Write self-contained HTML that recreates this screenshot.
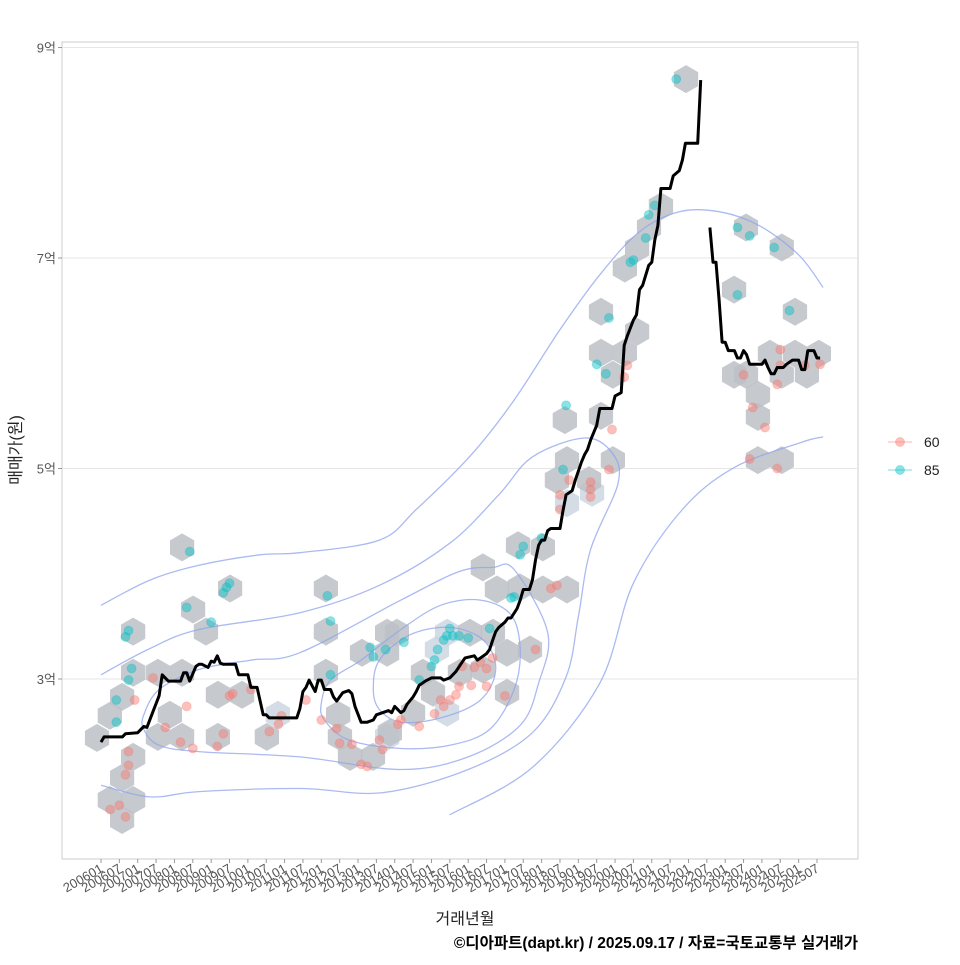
<!DOCTYPE html>
<html><head><meta charset="utf-8">
<style>
html,body{margin:0;padding:0;background:#fff;}
body{width:960px;height:960px;overflow:hidden;font-family:"Liberation Sans","Noto Sans CJK KR",sans-serif;}
svg text{font-family:"Liberation Sans","Noto Sans CJK KR",sans-serif;}
</style></head>
<body>
<svg id="chart" width="960" height="960" viewBox="0 0 960 960" xmlns="http://www.w3.org/2000/svg"></svg>
<script>
// ---- data (month index from 2006-01, price in 억) ----
const yTicks = [3,5,7,9];
const yTickLabels = ['3억','5억','7억','9억'];
const xTickLabels = [];
for (let yr = 2006; yr <= 2025; yr++) { xTickLabels.push(yr + '01'); xTickLabels.push(yr + '07'); }

const lineMonths = [0,1,7,8,12,14,15,17,19,20,22,26,27,28,29,31,32,33,35,36,37,38,39,40,44,45,48,49,51,53,54,55,64,65,66,67,68,70,71,72,73,75,76,77,79,81,82,83,85,87,89,90,92,94,95,96,98,99,100,102,103,104,106,108,111,112,114,116,118,119,122,123,125,126,127,128,129,130,132,133,134,136,137,138,140,141,142,143,144,145,146,147,150,151,152,154,155,157,158,159,160,162,163,167,168,170,171,172,174,175,176,177,179,180,181,182,183,186,187,189,190,191,195,196];
const lineValues = [2.40,2.45,2.45,2.48,2.49,2.55,2.54,2.69,2.84,3.04,2.98,2.98,3.06,3.06,2.98,3.12,3.14,3.14,3.11,3.17,3.16,3.22,3.15,3.14,3.14,3.04,3.04,2.92,2.92,2.66,2.66,2.63,2.63,2.72,2.88,2.92,2.99,2.88,2.99,2.99,2.90,2.90,2.83,2.79,2.87,2.89,2.86,2.74,2.59,2.59,2.61,2.66,2.68,2.70,2.68,2.74,2.68,2.70,2.76,2.83,2.88,2.94,2.98,3.01,3.01,2.99,3.01,3.07,3.16,3.20,3.22,3.18,3.22,3.24,3.28,3.37,3.45,3.49,3.54,3.58,3.58,3.67,3.75,3.85,3.85,3.94,4.13,4.27,4.32,4.32,4.41,4.43,4.43,4.60,4.75,4.79,4.89,5.06,5.13,5.18,5.27,5.41,5.57,5.57,5.69,5.72,6.17,6.26,6.41,6.46,6.70,6.74,6.93,6.96,7.17,7.31,7.66,7.66,7.78,7.83,7.93,8.09,8.09,8.69];
const line2Months = [199,200,201,202,203,204,205,207,208,209,210,211,212,216,217,218,219,220,221,223,224,226,228,229,230,231,233,234,235];
const line2Values = [7.29,6.96,6.96,6.60,6.20,6.20,6.12,6.12,6.05,6.05,6.12,6.08,5.99,5.99,6.03,5.96,5.90,5.90,5.96,5.96,5.99,6.03,6.03,5.94,5.94,6.12,6.12,6.05,6.05];

const hexMonths = [-1.3,2.9,2.9,6.9,6.9,6.9,10.5,10.5,10.5,10.5,18.6,26.5,26.5,42.2,30.1,34.3,22.5,26.5,18.6,38.2,38.2,46.1,54.2,57.8,73.5,73.5,73.5,85.3,93.5,93.5,78.1,81.4,88.9,93.5,77.5,102,94.4,108.5,113.1,105.2,117.3,124.8,132.7,109.8,132.7,140.2,96.7,113.1,120.6,128.1,124.8,129.4,136.9,144.4,152.3,136.3,144.4,149.0,152.3,160.5,152.3,167.3,151.6,159.5,163.4,167.3,163.4,171.2,163.4,175.2,171.2,175.2,179.1,183.0,191.2,206.9,210.8,222.5,226.8,210.8,218.6,226.8,234.6,230.7,214.7,214.7,214.7,222.5,206.9,222.5];
const hexValues = [2.44,2.65,1.85,2.83,2.06,1.66,3.06,2.26,1.85,3.45,3.06,3.06,4.25,3.86,3.66,3.45,2.66,2.45,2.45,2.85,2.45,2.85,2.45,2.66,3.86,3.45,3.06,3.25,3.44,3.25,2.45,2.26,2.26,2.45,2.66,2.68,2.49,2.87,2.68,3.06,3.06,3.09,2.87,3.28,3.25,3.28,3.44,3.44,3.44,3.44,4.06,3.85,3.87,3.85,3.85,4.27,4.25,4.89,5.08,4.77,4.67,5.08,5.46,4.89,5.50,5.89,6.10,6.10,6.49,6.30,6.90,7.09,7.29,7.49,8.70,6.70,7.29,7.10,6.49,5.89,6.09,6.09,6.09,5.89,5.70,5.49,5.08,5.08,5.89,5.89];
const hexLight = [23,33,38,43,47,59,60];

const p60Months = [3,6,8,8,9,9,11,17,21,26,28,30,38,40,42,43,49,55,58,59,67,72,77,78,82,85,87,91,92,97,98,104,109,111,112,114,116,117,118,121,122,124,126,126,128,132,142,147,149,150,150,153,160,160,160,166,167,172,171,210,213,217,212,221,222,222,230,221,235];
const p60Values = [1.76,1.80,1.69,2.09,2.18,2.31,2.80,3.01,2.54,2.40,2.74,2.34,2.36,2.48,2.84,2.86,2.90,2.50,2.57,2.65,2.80,2.61,2.53,2.39,2.38,2.19,2.17,2.42,2.33,2.57,2.61,2.55,2.67,2.80,2.74,2.80,2.85,2.93,3.12,2.94,3.11,3.16,3.10,2.93,3.20,2.84,3.28,3.86,3.89,4.75,4.61,4.89,4.87,4.80,4.73,4.99,5.37,5.98,5.87,5.89,5.58,5.39,5.09,5.80,6.13,5.98,5.98,5.00,5.99];
const p85Months = [5,5,9,10,8,9,29,28,36,40,41,42,74,75,75,88,89,93,99,104,108,109,110,112,114,115,113,117,120,127,134,137,138,135,144,151,152,162,165,166,173,174,178,179,181,188,208,212,208,220,225];
const p85Values = [2.80,2.59,2.99,3.10,3.40,3.46,4.21,3.68,3.54,3.82,3.87,3.91,3.79,3.55,3.04,3.30,3.21,3.28,3.35,2.99,3.12,3.18,3.28,3.37,3.48,3.41,3.41,3.41,3.39,3.48,3.77,4.18,4.26,3.78,4.34,4.99,5.60,5.99,5.90,6.43,6.96,6.98,7.19,7.41,7.50,8.70,7.29,7.21,6.65,7.10,6.50];

const contour1M = [0,16,32,52,65,91,103,121,135,150,163,176,189,202,215,228,236];
const contour1V = [3.70,3.94,4.08,4.18,4.20,4.32,4.61,5.13,5.65,6.32,6.84,7.25,7.44,7.44,7.31,7.03,6.72];
const contour2M = [0,16,32,65,91,114,130,141,158,167,169,160,156,152,141,120,92,65,32,16,0];
const contour2V = [3.04,3.29,3.47,3.63,3.89,4.29,4.75,5.11,5.29,5.15,4.86,4.23,3.59,3.02,2.49,2.14,1.92,1.96,1.93,1.88,1.99];
const contour3M = [14,19,32,49,65,98,117,128,135,146,143,137,120,98,65,32,19,14];
const contour3V = [2.66,2.90,3.09,3.18,3.25,3.75,4.02,4.06,4.04,3.44,2.96,2.56,2.26,2.14,2.26,2.31,2.37,2.52];
const contour4M = [72,75,85,98,111,124,134,137,135,127,114,98,81,73];
const contour4V = [2.77,2.99,3.18,3.47,3.70,3.75,3.61,3.28,2.90,2.52,2.37,2.34,2.42,2.61];
const contour5M = [89,91,101,114,125,129,124,111,98,91];
const contour5V = [2.90,3.18,3.42,3.49,3.37,3.09,2.80,2.63,2.59,2.71];
const contour6M = [114,141,163,174,190,207,229,236];
const contour6V = [1.71,2.16,2.96,3.91,4.61,5.01,5.25,5.30];

// ---- scales ----
const PL = 62, PR = 858, PT = 42, PB = 859;
const xS = m => 101 + m * (716 / 234);
const yS = v => 679 - (v - 3) * 105.25;
const NS = 'http://www.w3.org/2000/svg';
const svg = document.getElementById('chart');
function mk(tag, attrs, parent) {
  const e = document.createElementNS(NS, tag);
  for (const k in attrs) e.setAttribute(k, attrs[k]);
  (parent || svg).appendChild(e);
  return e;
}

// panel
const panel = mk('rect', {x: PL, y: PT, width: PR - PL, height: PB - PT, fill: '#fff', stroke: '#cccccc', 'stroke-width': 1});



// gridlines + y ticks
const gGrid = mk('g', {});


yTicks.forEach((t, i) => {
  const y = yS(t);
  const gl = mk('line', {x1: PL, x2: PR, y1: y, y2: y, stroke: '#e6e6e6', 'stroke-width': 1}, gGrid);
  
  
  const tk = mk('line', {x1: PL - 4, x2: PL, y1: y, y2: y, stroke: '#999', 'stroke-width': 1});
  
  
  const tx = mk('text', {x: PL - 6, y: y + 5, 'text-anchor': 'end', 'font-size': 13, fill: '#555'});
  tx.textContent = yTickLabels[i];
  
  
});

// x ticks
xTickLabels.forEach((lab, i) => {
  const x = xS(i * 6);
  const tk = mk('line', {x1: x, x2: x, y1: PB, y2: PB + 4, stroke: '#999', 'stroke-width': 1});
  
  
  const tx = mk('text', {x: 0, y: 0, 'text-anchor': 'end', 'font-size': 13, fill: '#555', transform: `translate(${x + 3},${PB + 12}) rotate(-30)`});
  tx.textContent = lab;
  
  
});

// hexbins
const gHex = mk('g', {});


const R = 14;
hexMonths.forEach((m, i) => {
  const cx = xS(m), cy = yS(hexValues[i]);
  const pts = [];
  for (let k = 0; k < 6; k++) {
    const a = Math.PI / 180 * (60 * k - 90);
    pts.push((cx + R * Math.cos(a)).toFixed(1) + ',' + (cy + R * Math.sin(a)).toFixed(1));
  }
  const h = mk('polygon', {points: pts.join(' '), fill: hexLight.includes(i) ? '#cdd7e2' : '#bcc1c7', opacity: 0.85}, gHex);
  
  
});

// contours
function smoothPath(M, V, closed) {
  const p = M.map((m, i) => [xS(m), yS(V[i])]);
  const n = p.length;
  const get = i => closed ? p[(i + n) % n] : p[Math.max(0, Math.min(n - 1, i))];
  let d = `M${p[0][0]},${p[0][1]}`;
  const last = closed ? n : n - 1;
  for (let i = 0; i < last; i++) {
    const p0 = get(i - 1), p1 = get(i), p2 = get(i + 1), p3 = get(i + 2);
    const c1 = [p1[0] + (p2[0] - p0[0]) / 6, p1[1] + (p2[1] - p0[1]) / 6];
    const c2 = [p2[0] - (p3[0] - p1[0]) / 6, p2[1] - (p3[1] - p1[1]) / 6];
    d += ` C${c1[0].toFixed(1)},${c1[1].toFixed(1)} ${c2[0].toFixed(1)},${c2[1].toFixed(1)} ${p2[0].toFixed(1)},${p2[1].toFixed(1)}`;
  }
  return d + (closed ? 'Z' : '');
}
const gCon = mk('g', {fill: 'none', stroke: '#8fa4ec', 'stroke-width': 1.3, opacity: 0.75});


[[contour1M, contour1V, false], [contour2M, contour2V, false], [contour3M, contour3V, true],
 [contour4M, contour4V, true], [contour5M, contour5V, true], [contour6M, contour6V, false]].forEach(c => {
  const p = mk('path', {d: smoothPath(c[0], c[1], c[2])}, gCon);
  
  
});

// points
const gPts = mk('g', {});


p60Months.forEach((m, i) => {
  const c = mk('circle', {cx: xS(m), cy: yS(p60Values[i]), r: 4.5, fill: '#F8766D', 'fill-opacity': 0.45, stroke: '#F8766D', 'stroke-opacity': 0.3}, gPts);
  
  
});
p85Months.forEach((m, i) => {
  const c = mk('circle', {cx: xS(m), cy: yS(p85Values[i]), r: 4.5, fill: '#00BFC4', 'fill-opacity': 0.45, stroke: '#00BFC4', 'stroke-opacity': 0.3}, gPts);
  
  
});

// median lines
function linePath(M, V) { return M.map((m, i) => (i ? 'L' : 'M') + xS(m).toFixed(1) + ',' + yS(V[i]).toFixed(1)).join(' '); }
const l1 = mk('path', {d: linePath(lineMonths, lineValues), fill: 'none', stroke: '#000', 'stroke-width': 3, 'stroke-linejoin': 'round'});


const l2 = mk('path', {d: linePath(line2Months, line2Values), fill: 'none', stroke: '#000', 'stroke-width': 3, 'stroke-linejoin': 'round'});



// legend
const legendItems = [['60', '#F8766D', 442], ['85', '#00BFC4', 470]];
const gLeg = mk('g', {});


legendItems.forEach(it => {
  const g = mk('g', {}, gLeg);
  
  
  mk('line', {x1: 888, x2: 912, y1: it[2], y2: it[2], stroke: it[1], 'stroke-opacity': 0.35, 'stroke-width': 1.5}, g);
  mk('circle', {cx: 900, cy: it[2], r: 4.5, fill: it[1], 'fill-opacity': 0.45, stroke: it[1], 'stroke-opacity': 0.3}, g);
  const t = mk('text', {x: 924, y: it[2] + 5, 'font-size': 14, fill: '#222'}, g);
  t.textContent = it[0];
});

// titles
const yt = mk('text', {x: 0, y: 0, 'text-anchor': 'middle', 'font-size': 16, fill: '#222', transform: 'translate(21,450) rotate(-90)'});
yt.textContent = '매매가(원)';


const xt = mk('text', {x: 465, y: 924, 'text-anchor': 'middle', 'font-size': 16, fill: '#222'});
xt.textContent = '거래년월';


const cap = mk('text', {x: 858, y: 948, 'text-anchor': 'end', 'font-size': 15.5, 'font-weight': 'bold', fill: '#000'});
cap.textContent = '©디아파트(dapt.kr) / 2025.09.17 / 자료=국토교통부 실거래가';


</script>
</body></html>
